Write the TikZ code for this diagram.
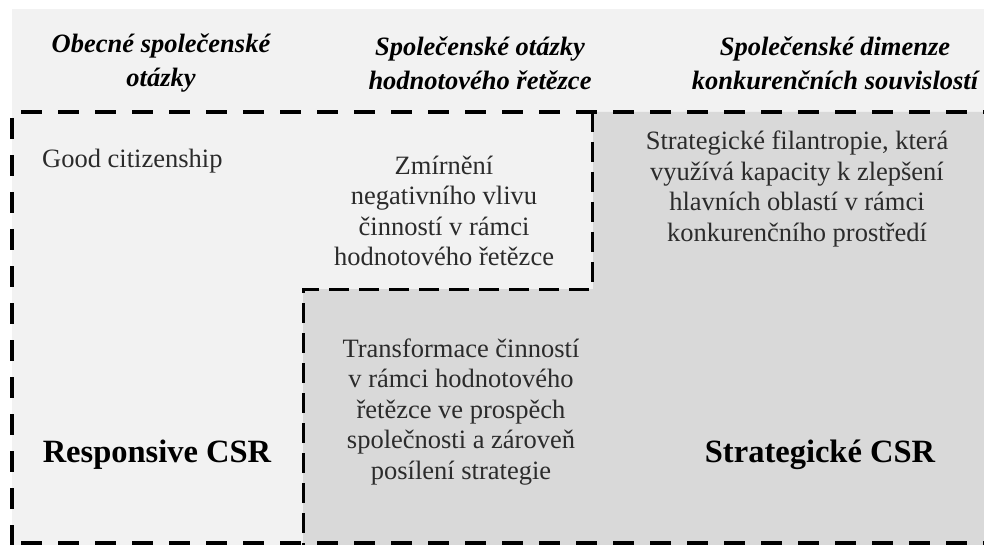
\documentclass[tikz,border=0pt]{standalone}
\usepackage{fontspec}
\setmainfont{Liberation Serif}[
  UprightFont=*,
  BoldFont=* Bold,
  ItalicFont=* Italic,
  BoldItalicFont=* Bold Italic]
\usepackage{tikz}
\usetikzlibrary{positioning}

\definecolor{paleback}{HTML}{F2F2F2}
\definecolor{darkback}{HTML}{D9D9D9}
\definecolor{bodytext}{HTML}{2B2B2B}

\begin{document}
\begin{tikzpicture}[
            x=1pt,y=-1pt,
            head/.style={align=center,font=\fontsize{26.5}{34}\selectfont\bfseries\itshape,inner sep=0pt},
            body/.style={align=center,text=bodytext,font=\fontsize{26.5}{30.5}\selectfont,inner sep=0pt},
            label/.style={font=\fontsize{32.5}{36}\selectfont\bfseries,inner sep=0pt},
            border/.style={line width=4pt,dash pattern=on 21pt off 16pt},
            inner border/.style={line width=3pt,dash pattern=on 20pt off 10pt}
        ]
        \useasboundingbox (0,0) rectangle (984,545);
        \fill[paleback] (12,9) rectangle (984,545);
        \fill[darkback] (593,112) -- (984,112) -- (984,545) -- (303,545) -- (303,289) -- (593,289) -- cycle;

        \coordinate (top left) at (21,112);
        \coordinate (top right) at (984,112);
        \coordinate (left top) at (12,118);
        \coordinate (left bottom) at (12,545);
        \coordinate (bottom left) at (21,543);
        \coordinate (bottom right) at (984,543);
        \coordinate (step top) at (592,112);
        \coordinate (step corner) at (592,289);
        \coordinate (step inner) at (303,289);
        \coordinate (step bottom) at (303,545);

        \draw[border] (top left) -- (top right);
        \draw[border] (left top) -- (left bottom);
        \draw[border] (bottom left) -- (bottom right);
        \draw[inner border] (step top) -- (step corner) -- (step inner) -- (step bottom);

        % column headings
        \node[head] (general issues) at (161,63) {Obecné společenské\\otázky};
        \node[head] (value chain issues) at (480,63) {Společenské otázky\\hodnotového řetězce};
        \node[head] (competitive issues) at (835,63) {Společenské dimenze\\konkurenčních souvislostí};

        \node[body,anchor=west] (good citizenship) at (42,161) {Good citizenship};
        \node[body] (mitigating harm) at (444,211) {Zmírnění\\negativního vlivu\\činností v rámci\\hodnotového řetězce};
        \node[body] (philanthropy) at (797,189) {Strategické filantropie, která\\využívá kapacity k zlepšení\\hlavních oblastí v rámci\\konkurenčního prostředí};
        \node[body] (transforming) at (461,412) {Transformace činností\\v rámci hodnotového\\řetězce ve prospěch\\společnosti a zároveň\\posílení strategie};

        \node[label] (responsive csr) at (157,455) {Responsive CSR};
        \node[label] (strategic csr) at (820,455) {Strategické CSR};
    \end{tikzpicture}
\end{document}
